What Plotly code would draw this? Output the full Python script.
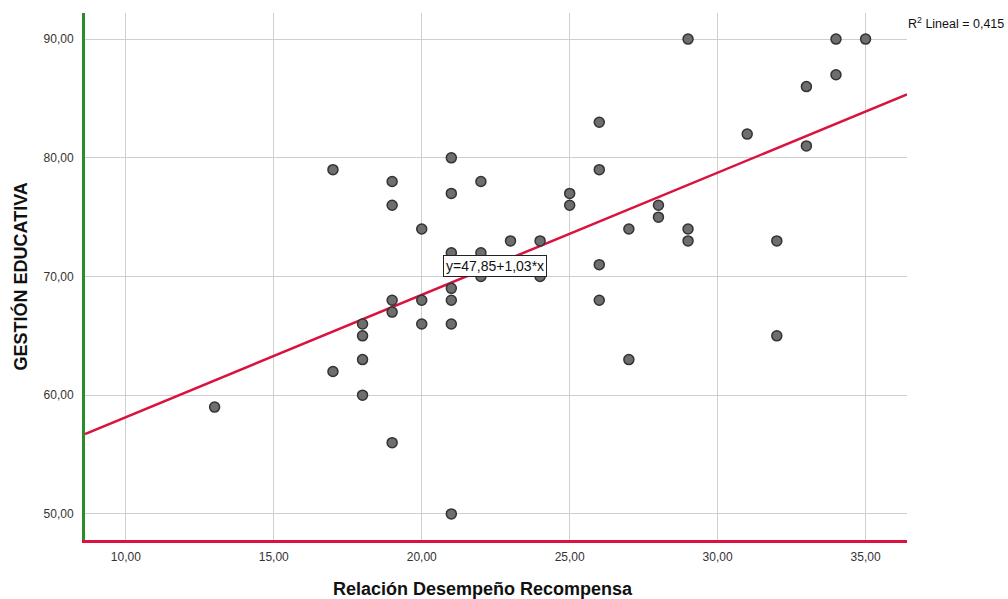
import plotly.graph_objects as go

x_vals = [13,
          17, 17,
          18, 18, 18, 18,
          19, 19, 19, 19, 19,
          20, 20, 20,
          21, 21, 21, 21, 21, 21, 21,
          22, 22, 22,
          23,
          24, 24,
          25, 25,
          26, 26, 26, 26,
          27, 27,
          28, 28,
          29, 29, 29,
          31,
          32, 32,
          33, 33,
          34, 34,
          35]
y_vals = [59,
          79, 62,
          66, 65, 63, 60,
          78, 76, 68, 67, 56,
          74, 68, 66,
          80, 77, 72, 69, 68, 66, 50,
          78, 72, 70,
          73,
          73, 70,
          77, 76,
          83, 79, 71, 68,
          74, 63,
          76, 75,
          90, 74, 73,
          82,
          73, 65,
          86, 81,
          90, 87,
          90]

intercept = 47.85
slope = 1.03
r2 = 0.415
x_range = [8.62, 36.4]
y_range = [47.8, 92.2]

line_x = x_range
line_y = [intercept + slope * v for v in line_x]

FONT = "Liberation Sans, Arial"

fig = go.Figure()
fig.add_trace(go.Scatter(x=line_x, y=line_y, mode="lines",
                         line=dict(color="#d9123f", width=2.5),
                         hoverinfo="skip", showlegend=False))
fig.add_trace(go.Scatter(x=x_vals, y=y_vals, mode="markers",
                         marker=dict(size=10, color="#6e6e6e",
                                     line=dict(color="#333333", width=1.5)),
                         showlegend=False))

eq_text = "y=%s+%s*x" % (f"{intercept:.2f}".replace(".", ","), f"{slope:.2f}".replace(".", ","))
fig.add_annotation(x=22.47, y=70.9, xref="x", yref="y", text=eq_text, showarrow=False,
                   font=dict(family=FONT, size=14, color="#111"),
                   bgcolor="white", bordercolor="#222", borderwidth=1, borderpad=2)
fig.add_annotation(x=1.0, y=1.0, xref="paper", yref="paper", xanchor="left", yanchor="top",
                   xshift=-1, yshift=0,
                   text="R<sup>2</sup> Lineal = " + f"{r2:.3f}".replace(".", ","),
                   showarrow=False,
                   font=dict(family=FONT, size=12.5, color="#111"))

# axis titles as annotations
fig.add_annotation(x=0.5, y=0, xref="paper", yref="paper", yanchor="middle",
                   xshift=-13, yshift=-49,
                   text="<b>Relación Desempeño Recompensa</b>", showarrow=False,
                   font=dict(family=FONT, size=18, color="#111"))
fig.add_annotation(x=0, y=0.5, xref="paper", yref="paper", xanchor="center",
                   xshift=-65, textangle=-90,
                   text="<b>GESTIÓN EDUCATIVA</b>", showarrow=False,
                   font=dict(family=FONT, size=18, color="#111"))

fig.update_layout(
    width=1008, height=599,
    margin=dict(l=85, r=101, t=13, b=59),
    paper_bgcolor="white", plot_bgcolor="white",
    separators=",.",
    font=dict(family=FONT, size=12, color="#333"),
    xaxis=dict(range=x_range, tickvals=[10, 15, 20, 25, 30, 35], tickformat=".2f",
               showgrid=True, gridcolor="#cfcfcf", gridwidth=1, zeroline=False,
               showline=True, linecolor="#d9123f", linewidth=3,
               ticks="", ticklabelstandoff=4, automargin=False),
    yaxis=dict(range=y_range, tickvals=[50, 60, 70, 80, 90], tickformat=".2f",
               showgrid=True, gridcolor="#cfcfcf", gridwidth=1, zeroline=False,
               showline=True, linecolor="#2a8c2a", linewidth=3,
               ticks="", ticklabelstandoff=6, automargin=False),
)

fig.write_html("out.html")
